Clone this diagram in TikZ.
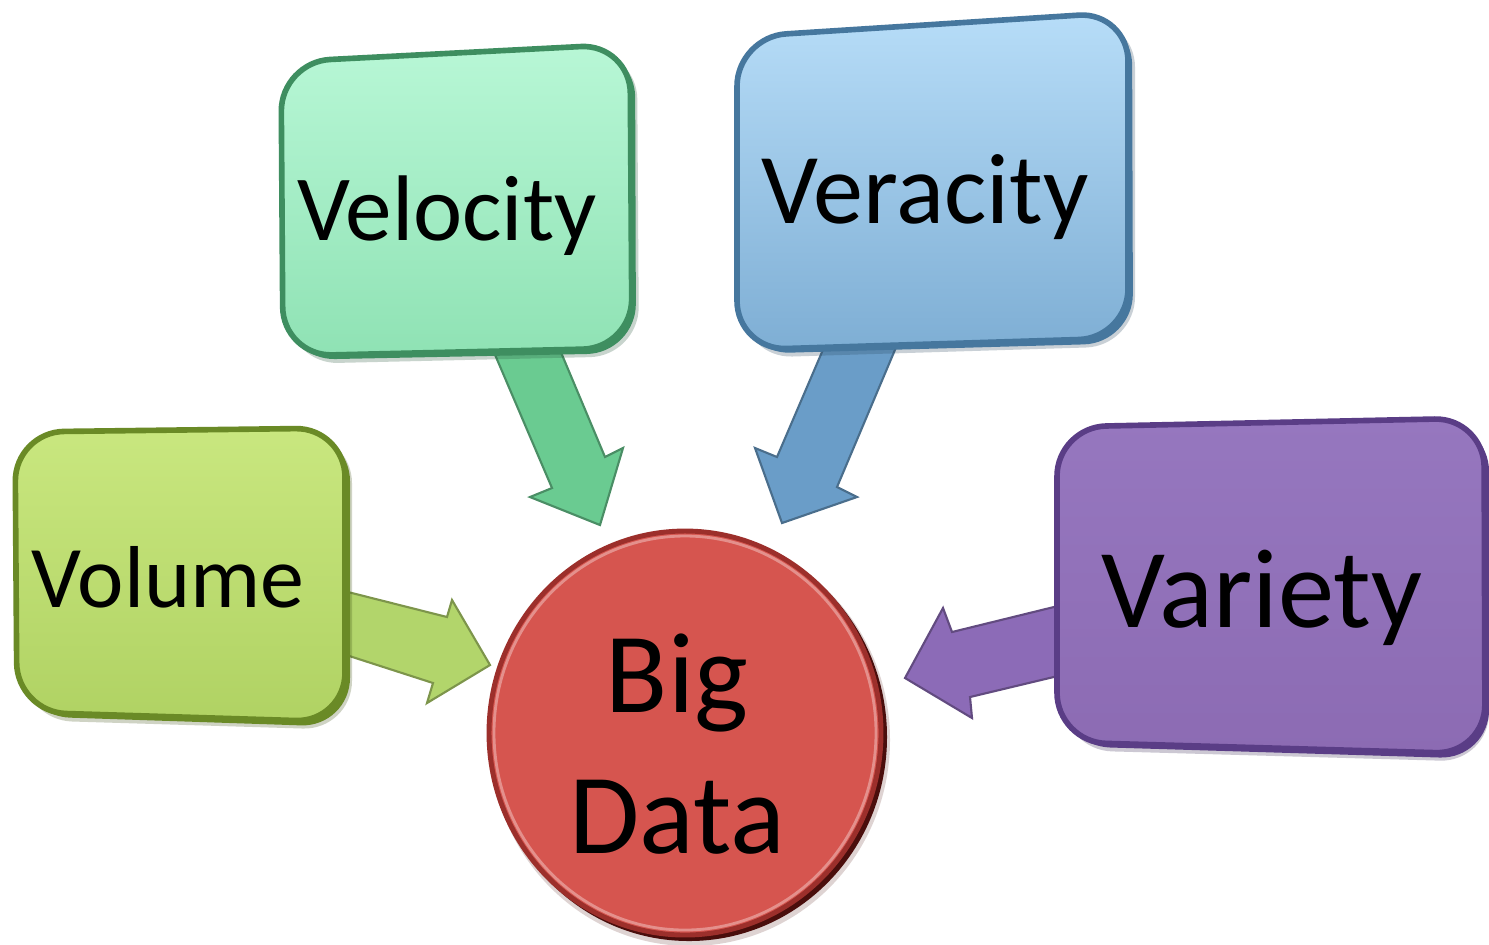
\documentclass[tikz,border=0pt]{standalone}
\usepackage{fontspec}
\setmainfont{Carlito}
\usetikzlibrary{calc}
\definecolor{velTop}{HTML}{B8F7D6}
\definecolor{velBot}{HTML}{8FE2B4}
\definecolor{velLine}{HTML}{3E8E60}
\definecolor{velArrow}{HTML}{6ACB91}
\definecolor{verTop}{HTML}{B7DDF8}
\definecolor{verBot}{HTML}{7EAED4}
\definecolor{verLine}{HTML}{46779E}
\definecolor{verArrow}{HTML}{6A9DC8}
\definecolor{volTop}{HTML}{C9E77F}
\definecolor{volBot}{HTML}{B0D263}
\definecolor{volLine}{HTML}{6A8A26}
\definecolor{volArrow}{HTML}{B2D56B}
\definecolor{varTop}{HTML}{9677BF}
\definecolor{varBot}{HTML}{8C6BB3}
\definecolor{varLine}{HTML}{5A3D86}
\definecolor{varArrow}{HTML}{8C6BB7}
\definecolor{bigFill}{HTML}{D6554F}
\definecolor{bigLine}{HTML}{9C2F2B}
\definecolor{bigShadow}{HTML}{4A0E0C}
\tikzset{
  boxshadow/.style={fill=#1, rounded corners=14},
  boxface/.style={draw=#1, line width=1.6pt, rounded corners=14},
  blockarrow/.style={fill=#1, draw=#1!70!black, line width=0.6pt, line join=miter},
  lbl/.style={inner sep=0pt, text=black, anchor=base},
}
\begin{document}
\begin{tikzpicture}[x=0.01cm, y=-0.01cm]
\useasboundingbox (0,0) rectangle (1489,944);
\fill[white] (0,0) rectangle (1489,944);

% ---- block arrows (behind boxes) ----
\path[blockarrow=velArrow] (493,350) -- (552,488) -- (530,497) -- (600,525) -- (623,448) -- (605,457) -- (560,350) -- cycle;
\path[blockarrow=verArrow] (825,345) -- (777,457) -- (755,448) -- (782,523) -- (857,497) -- (837,487) -- (897,345) -- cycle;
\path[blockarrow=volArrow] (340,590) -- (447,617) -- (452,600) -- (490,665) -- (427,703) -- (433,683) -- (340,653) -- cycle;
\path[blockarrow=varArrow] (1062,605) -- (952,632) -- (943,608) -- (905,678) -- (972,718) -- (970,697) -- (1062,675) -- cycle;

% ---- Velocity box ----
\path[boxshadow=velLine!60!black, opacity=0.25] (287,68) -- (637,50) -- (639,356) -- (289,364) -- cycle;
\path[boxshadow=velLine] (285,66) -- (635,48) -- (636,353) -- (286,360) -- cycle;
\shade[top color=velTop, bottom color=velBot, boxface=velLine] (281,62) -- (630,44) -- (632,348) -- (283,356) -- cycle;
% ---- Veracity box ----
\path[boxshadow=verLine!60!black, opacity=0.25] (743,43) -- (1135,18) -- (1135,346) -- (743,358) -- cycle;
\path[boxshadow=verLine] (741,41) -- (1132,16) -- (1133,343) -- (741,354) -- cycle;
\shade[top color=verTop, bottom color=verBot, boxface=verLine] (737,37) -- (1128,12) -- (1128,338) -- (737,350) -- cycle;
% ---- Volume box ----
\path[boxshadow=volLine!60!black, opacity=0.25] (21,438) -- (352,434) -- (352,730) -- (23,720) -- cycle;
\path[boxshadow=volLine] (19,436) -- (350,432) -- (350,727) -- (21,716) -- cycle;
\shade[top color=volTop, bottom color=volBot, boxface=volLine] (15,432) -- (345,428) -- (345,722) -- (17,712) -- cycle;
% ---- Variety box ----
\path[boxshadow=varLine!60!black, opacity=0.25] (1063,433) -- (1489,424) -- (1489,762) -- (1063,750) -- cycle;
\path[boxshadow=varLine] (1061,431) -- (1489,422) -- (1489,759) -- (1061,746) -- cycle;
\shade[top color=varTop, bottom color=varBot, boxface=varLine] (1057,427) -- (1484,418) -- (1485,754) -- (1057,742) -- cycle;

% ---- Big Data circle ----
\fill[bigShadow!60, opacity=0.3] (690,740) ellipse [x radius=200, y radius=206];
\fill[bigShadow] (689,737) ellipse [x radius=198, y radius=204];
\path[fill=bigFill, draw=bigLine, line width=1.4pt] (685,733) ellipse [x radius=196, y radius=202];
\draw[white, opacity=0.35, line width=0.8pt] (685,733) ellipse [x radius=191, y radius=197];

% ---- labels ----
\node[lbl, font=\fontsize{26.5pt}{30pt}\selectfont] (velocity) at (447,240) {Velocity};
\node[lbl, font=\fontsize{28.5pt}{32pt}\selectfont] (veracity) at (925,223) {Veracity};
\node[lbl, font=\fontsize{25pt}{29pt}\selectfont] (volume) at (168,607) {Volume};
\node[lbl, font=\fontsize{32pt}{36pt}\selectfont] (variety) at (1262,627) {Variety};
\node[lbl, font=\fontsize{32.5pt}{36pt}\selectfont] (big) at (677,712) {Big};
\node[lbl, font=\fontsize{32.5pt}{36pt}\selectfont] (data) at (677,853) {Data};
\end{tikzpicture}
\end{document}
